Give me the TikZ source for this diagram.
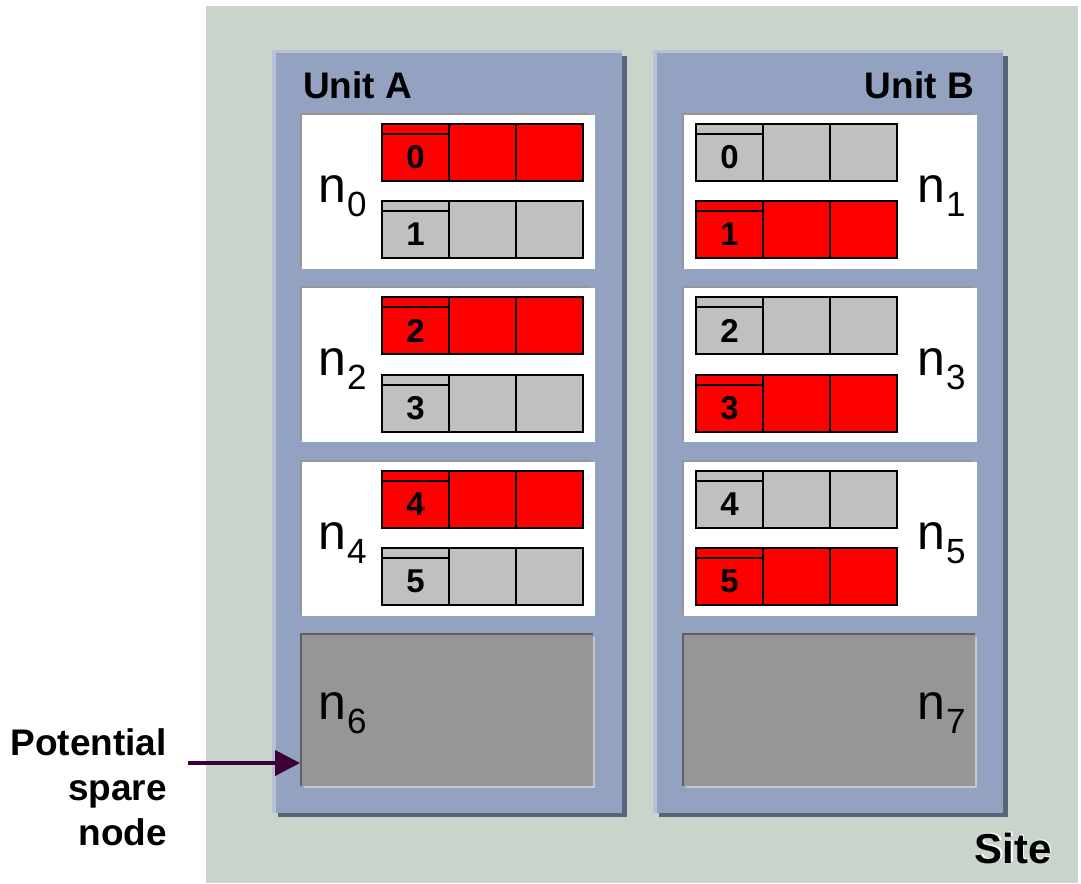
\documentclass[tikz,border=0pt]{standalone}
\usepackage{fontspec}
\setmainfont{Liberation Sans}
\usetikzlibrary{arrows.meta}

\definecolor{sitebg}{RGB}{201,212,203}
\definecolor{unitfill}{RGB}{148,162,194}
\definecolor{unitlight}{RGB}{184,192,216}
\definecolor{unitshade}{RGB}{90,100,120}
\definecolor{boxedge}{RGB}{150,150,150}
\definecolor{sparefill}{RGB}{150,150,150}
\definecolor{sparedark}{RGB}{96,96,96}
\definecolor{sparelight}{RGB}{200,200,200}
\definecolor{cellred}{RGB}{255,0,0}
\definecolor{cellgray}{RGB}{192,192,192}
\definecolor{arrowcol}{RGB}{60,0,52}

\newcommand\nnfont{\fontsize{50}{50}\selectfont}
\newcommand\nsubfont{\fontsize{35}{35}\selectfont}
\newcommand\titlefont{\fontsize{37}{45}\selectfont\bfseries}
\newcommand\digitfont{\fontsize{33}{33}\selectfont\bfseries}
\newcommand\sitefont{\fontsize{42}{42}\selectfont\bfseries}

% unit frame: name, left x of the main face
\newcommand\unitframe[2]{%
  \fill[unitshade] (#2+2,56) rectangle (#2+351,817);
  \fill[unitlight] (#2-4,50) rectangle (#2+346,813);
  \node[unitbox, anchor=north west] (#1) at (#2,53) {};
}
% white compute node: name, x, y of its top left corner
\newcommand\workbox[3]{%
  \fill[boxedge] (#2-2,#3-2) rectangle (#2+288,#3+152);
  \node[workbox, anchor=north west] (#1) at (#2,#3) {};
}
% grey spare node: name, x, y
\newcommand\sparebox[3]{%
  \fill[sparedark] (#2-2,#3-2) rectangle (#2+291,#3+151);
  \fill[sparelight] (#2+2,#3+2) rectangle (#2+293,#3+153);
  \node[sparebox, anchor=north west] (#1) at (#2,#3) {};
}
% row of three cells: name prefix, x, y, colour, digit
\newcommand\cellrow[5]{%
  \node[cellbox, fill=#4, anchor=north west] (#1a) at (#2,#3) {};
  \node[cellbox, fill=#4, anchor=north west] (#1b) at (#1a.north east) {};
  \node[cellbox, fill=#4, anchor=north west] (#1c) at (#1b.north east) {};
  \draw[cellline] ([yshift=-10pt]#1a.north west) -- ([yshift=-10pt]#1a.north east);
  \node[digitlabel] (#1d) at ([yshift=-5pt]#1a.center) {#5};
}
% node name label n_i: name, position, index
\newcommand\nodename[3]{%
  \node[nlabel] (#1) at (#2) {\nnfont n\kern1pt\raisebox{-14pt}{\nsubfont #3}};
}

\begin{document}
\begin{tikzpicture}[x=1pt, y=-1pt,
  sitebox/.style={fill=sitebg, inner sep=0, outer sep=0, minimum width=872, minimum height=877},
  unitbox/.style={fill=unitfill, inner sep=0, outer sep=0, minimum width=346, minimum height=760},
  workbox/.style={fill=white, inner sep=0, outer sep=0, minimum width=293, minimum height=154},
  sparebox/.style={fill=sparefill, inner sep=0, outer sep=0, minimum width=291, minimum height=151},
  cellbox/.style={draw=black, line width=2.2pt, inner sep=0, outer sep=0, minimum width=67, minimum height=57},
  cellline/.style={draw=black, line width=2.2pt},
  digitlabel/.style={inner sep=0, font=\digitfont},
  nlabel/.style={inner sep=0, anchor=base west},
  unitlabel/.style={inner sep=0, font=\titlefont},
  sparearrow/.style={draw=arrowcol, line width=4pt, -{Triangle[length=25pt, width=25pt]}, shorten >=2pt},
]
\useasboundingbox (0,0) rectangle (1081,883);

% site background
\node[sitebox, anchor=north west] (site) at (206,6) {};

% the two units
\unitframe{unitA}{276}
\unitframe{unitB}{657}
\node[unitlabel, anchor=base west] (labA) at (303,99) {Unit A};
\node[unitlabel, anchor=base east] (labB) at (974,99) {Unit B};

% compute nodes of unit A
\workbox{n0}{302}{115}
\workbox{n2}{302}{288}
\workbox{n4}{302}{462}
\cellrow{nA0}{382}{124}{cellred}{0}
\cellrow{nA1}{382}{201}{cellgray}{1}
\cellrow{nA2}{382}{297}{cellred}{2}
\cellrow{nA3}{382}{375}{cellgray}{3}
\cellrow{nA4}{382}{471}{cellred}{4}
\cellrow{nA5}{382}{548}{cellgray}{5}
\nodename{ln0}{318,202}{0}
\nodename{ln2}{318,375}{2}
\nodename{ln4}{318,549}{4}

% compute nodes of unit B
\workbox{n1}{684}{115}
\workbox{n3}{684}{288}
\workbox{n5}{684}{462}
\cellrow{nB0}{696}{124}{cellgray}{0}
\cellrow{nB1}{696}{201}{cellred}{1}
\cellrow{nB2}{696}{297}{cellgray}{2}
\cellrow{nB3}{696}{375}{cellred}{3}
\cellrow{nB4}{696}{471}{cellgray}{4}
\cellrow{nB5}{696}{548}{cellred}{5}
\nodename{ln1}{917,202}{1}
\nodename{ln3}{917,375}{3}
\nodename{ln5}{917,549}{5}

% spare nodes
\sparebox{n6}{302}{635}
\sparebox{n7}{684}{635}
\nodename{ln6}{318,719}{6}
\nodename{ln7}{917,719}{7}

% annotation of the spare node
\node[inner sep=0, align=right, font=\titlefont, anchor=north east] (spare) at (167,728) {Potential\\spare\\node};
\coordinate (arrowTail) at (188,763);
\draw[sparearrow] (arrowTail) -- (arrowTail -| n6.west);

% site label with a light edge
\node[inner sep=0, font=\sitefont, text=white, anchor=base east] (siteGlow) at (1053.5,862) {Site};
\node[inner sep=0, font=\sitefont, anchor=base east] (siteLabel) at (1052,863) {Site};
\end{tikzpicture}
\end{document}
